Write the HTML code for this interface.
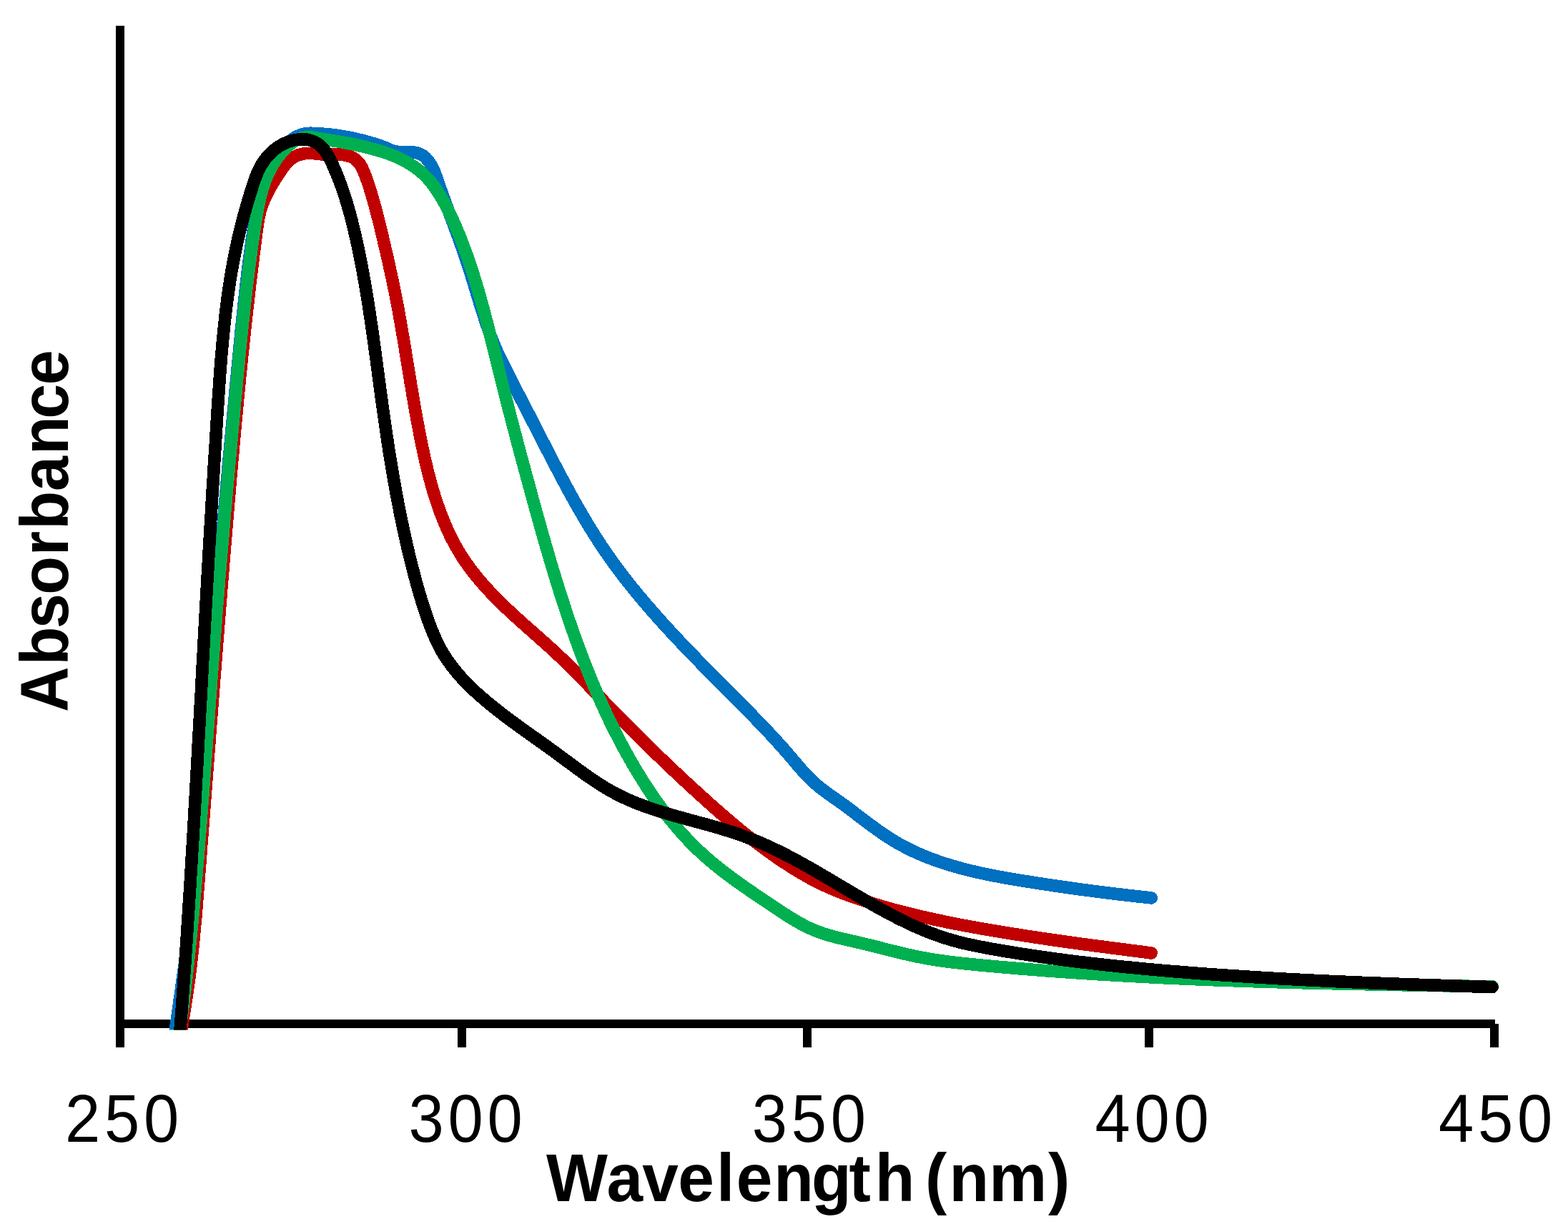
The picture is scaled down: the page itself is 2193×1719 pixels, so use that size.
<!DOCTYPE html>
<html lang="en">
<head>
<meta charset="utf-8">
<title>Absorbance vs Wavelength</title>
<style>
html,body{margin:0;padding:0;background:#fff;}
body{width:2193px;height:1719px;overflow:hidden;}
svg{display:block;}
</style>
</head>
<body>
<svg width="2193" height="1719" viewBox="0 0 2193 1719">
<defs><clipPath id="plot"><rect x="0" y="0" width="2193" height="1440.6"/></clipPath></defs>
<rect width="2193" height="1719" fill="#fff"/>
<g stroke="#000" stroke-width="12" fill="none" shape-rendering="crispEdges">
<line x1="168" y1="36" x2="168" y2="1465"/>
<line x1="162" y1="1432" x2="2091" y2="1432"/>
<line x1="646.0" y1="1432" x2="646.0" y2="1465"/>
<line x1="1129.0" y1="1432" x2="1129.0" y2="1465"/>
<line x1="1607.0" y1="1432" x2="1607.0" y2="1465"/>
<line x1="2090.0" y1="1432" x2="2090.0" y2="1465"/>
</g>
<g fill="none" stroke-width="17.6" stroke-linecap="round" stroke-linejoin="round" shape-rendering="crispEdges" clip-path="url(#plot)">
<path stroke="#0070C0" d="M240.6,1474.9C240.9,1472.6 241.8,1465.6 242.5,1461.0C243.1,1456.4 243.7,1451.8 244.4,1447.1C245.0,1442.5 245.7,1437.9 246.3,1433.2C247.0,1428.6 247.6,1424.0 248.3,1419.4C249.0,1414.7 249.6,1410.1 250.3,1405.5C250.9,1400.8 251.6,1396.2 252.3,1391.6C252.9,1387.0 253.6,1382.3 254.2,1377.7C254.9,1373.0 255.5,1368.4 256.2,1363.8C256.8,1359.1 257.5,1354.5 258.1,1349.9C258.8,1345.2 259.4,1340.6 260.0,1335.9C260.6,1331.3 261.2,1326.7 261.8,1322.0C262.4,1317.4 263.0,1312.7 263.6,1308.1C264.2,1303.4 264.8,1298.8 265.3,1294.2C265.9,1289.5 266.4,1284.9 267.0,1280.2C267.5,1275.6 268.0,1270.9 268.6,1266.3C269.1,1261.6 269.6,1256.9 270.1,1252.3C270.6,1247.6 271.1,1243.0 271.6,1238.3C272.0,1233.7 272.5,1229.0 273.0,1224.4C273.4,1219.7 273.9,1215.0 274.4,1210.4C274.8,1205.7 275.2,1201.1 275.7,1196.4C276.1,1191.7 276.5,1187.1 277.0,1182.4C277.4,1177.8 277.8,1173.1 278.2,1168.4C278.6,1163.8 279.0,1159.1 279.4,1154.4C279.8,1149.8 280.2,1145.1 280.6,1140.4C281.0,1135.8 281.4,1131.1 281.7,1126.4C282.1,1121.8 282.5,1117.1 282.8,1112.4C283.2,1107.8 283.6,1103.1 283.9,1098.4C284.3,1093.7 284.7,1089.1 285.0,1084.4C285.4,1079.7 285.7,1075.1 286.1,1070.4C286.4,1065.7 286.7,1061.1 287.1,1056.4C287.4,1051.7 287.8,1047.0 288.1,1042.4C288.4,1037.7 288.8,1033.0 289.1,1028.4C289.5,1023.7 289.8,1019.0 290.1,1014.3C290.5,1009.7 290.8,1005.0 291.1,1000.3C291.4,995.6 291.8,991.0 292.1,986.3C292.4,981.6 292.8,977.0 293.1,972.3C293.4,967.6 293.8,962.9 294.1,958.3C294.5,953.6 294.8,948.9 295.1,944.3C295.5,939.6 295.8,934.9 296.2,930.2C296.5,925.6 296.8,920.9 297.2,916.2C297.5,911.6 297.9,906.9 298.2,902.2C298.6,897.6 299.0,892.9 299.3,888.2C299.7,883.6 300.0,878.9 300.4,874.2C300.8,869.5 301.1,864.9 301.5,860.2C301.9,855.5 302.2,850.9 302.6,846.2C303.0,841.5 303.3,836.9 303.7,832.2C304.1,827.5 304.5,822.9 304.9,818.2C305.2,813.5 305.6,808.9 306.0,804.2C306.4,799.6 306.8,794.9 307.2,790.2C307.6,785.6 308.0,780.9 308.4,776.2C308.8,771.6 309.1,766.9 309.5,762.2C309.9,757.6 310.3,752.9 310.7,748.2C311.1,743.6 311.6,738.9 312.0,734.2C312.4,729.6 312.8,724.9 313.2,720.3C313.6,715.6 314.0,710.9 314.4,706.3C314.8,701.6 315.2,696.9 315.7,692.3C316.1,687.6 316.5,683.0 316.9,678.3C317.3,673.6 317.8,669.0 318.2,664.3C318.6,659.6 319.0,655.0 319.4,650.3C319.9,645.7 320.3,641.0 320.7,636.3C321.2,631.7 321.6,627.0 322.0,622.3C322.5,617.7 322.9,613.0 323.3,608.4C323.8,603.7 324.2,599.0 324.6,594.4C325.1,589.7 325.5,585.1 325.9,580.4C326.4,575.7 326.8,571.1 327.3,566.4C327.7,561.7 328.1,557.1 328.6,552.4C329.0,547.8 329.5,543.1 329.9,538.4C330.4,533.8 330.8,529.1 331.3,524.4C331.7,519.8 332.2,515.1 332.6,510.5C333.1,505.8 333.5,501.1 334.0,496.5C334.4,491.8 334.9,487.2 335.3,482.5C335.8,477.8 336.2,473.2 336.7,468.5C337.1,463.8 337.6,459.2 338.1,454.5C338.5,449.9 339.0,445.2 339.5,440.5C340.0,435.9 340.5,431.2 341.0,426.6C341.5,421.9 342.0,417.3 342.5,412.6C343.0,407.9 343.5,403.3 344.1,398.6C344.6,394.0 345.2,389.3 345.7,384.7C346.3,380.0 346.9,375.4 347.4,370.8C348.0,366.1 348.6,361.5 349.3,356.8C349.9,352.2 350.5,347.5 351.2,342.9C351.8,338.3 352.5,333.6 353.2,329.0C353.9,324.4 354.6,319.8 355.3,315.1C356.1,310.5 356.8,305.9 357.7,301.3C358.5,296.7 359.4,292.1 360.4,287.5C361.4,283.0 362.4,278.4 363.6,273.9C364.8,269.4 366.1,264.9 367.5,260.4C369.0,256.0 370.5,251.6 372.3,247.2C374.1,242.8 376.0,238.5 378.1,234.2C380.2,229.9 382.5,225.6 385.0,221.6C387.6,217.5 390.3,213.5 393.3,209.8C396.2,206.2 399.4,202.6 402.9,199.6C406.4,196.5 410.1,193.5 414.1,191.4C418.1,189.3 422.5,187.5 427.0,186.7C431.5,185.9 436.4,186.4 441.1,186.5C445.8,186.6 450.5,187.1 455.2,187.5C459.9,187.9 464.5,188.4 469.1,189.0C473.8,189.7 478.4,190.4 483.0,191.2C487.6,192.0 492.2,192.9 496.8,194.0C501.3,195.0 505.9,196.1 510.4,197.3C514.9,198.5 519.5,199.8 523.9,201.2C528.4,202.6 532.8,204.2 537.2,205.8C541.6,207.5 545.8,209.9 550.2,211.1C554.7,212.3 559.3,212.9 563.9,213.2C568.6,213.5 573.7,212.3 578.2,212.9C582.7,213.6 587.3,214.8 591.1,217.2C594.8,219.5 598.0,223.5 600.7,227.3C603.4,231.0 605.4,235.3 607.3,239.6C609.2,243.9 610.6,248.5 612.2,252.9C613.8,257.4 615.3,261.9 616.9,266.4C618.5,270.9 620.1,275.3 621.7,279.7C623.3,284.1 625.0,288.5 626.6,292.9C628.2,297.3 629.8,301.7 631.5,306.1C633.1,310.4 634.7,314.8 636.3,319.2C637.9,323.5 639.5,327.9 641.1,332.2C642.7,336.6 644.3,341.0 645.8,345.4C647.4,349.7 648.9,354.1 650.4,358.5C651.9,362.9 653.4,367.4 654.8,371.8C656.3,376.3 657.7,380.7 659.1,385.2C660.5,389.7 661.8,394.2 663.2,398.7C664.6,403.2 665.9,407.7 667.3,412.2C668.7,416.7 670.0,421.2 671.4,425.7C672.8,430.2 674.2,434.7 675.7,439.1C677.1,443.6 678.6,448.1 680.1,452.5C681.6,457.0 683.2,461.4 684.8,465.8C686.4,470.2 688.1,474.5 689.9,478.9C691.6,483.2 693.4,487.5 695.3,491.8C697.2,496.0 699.2,500.3 701.2,504.5C703.3,508.7 705.4,512.8 707.5,517.0C709.6,521.1 711.7,525.3 713.9,529.4C716.0,533.6 718.1,537.7 720.2,541.9C722.4,546.0 724.5,550.1 726.6,554.3C728.8,558.4 730.9,562.6 733.0,566.7C735.2,570.9 737.3,575.0 739.5,579.1C741.6,583.3 743.7,587.4 745.9,591.6C748.0,595.8 750.1,599.9 752.3,604.1C754.4,608.2 756.6,612.4 758.7,616.6C760.8,620.8 763.0,624.9 765.1,629.1C767.3,633.3 769.4,637.5 771.6,641.6C773.7,645.8 775.9,650.0 778.1,654.1C780.3,658.3 782.4,662.5 784.6,666.6C786.8,670.8 789.1,674.9 791.3,679.0C793.5,683.2 795.8,687.3 798.0,691.4C800.3,695.5 802.6,699.6 804.9,703.7C807.2,707.8 809.5,711.9 811.9,715.9C814.2,720.0 816.6,724.0 819.0,728.1C821.4,732.1 823.8,736.1 826.3,740.1C828.8,744.1 831.3,748.0 833.8,752.0C836.3,755.9 838.9,759.8 841.4,763.7C844.0,767.6 846.7,771.4 849.3,775.3C852.0,779.1 854.7,782.9 857.4,786.7C860.2,790.5 862.9,794.2 865.7,798.0C868.5,801.7 871.4,805.4 874.2,809.1C877.1,812.8 880.0,816.5 882.9,820.1C885.8,823.7 888.8,827.4 891.8,831.0C894.7,834.6 897.7,838.1 900.8,841.7C903.8,845.3 906.9,848.8 909.9,852.3C913.0,855.9 916.1,859.4 919.2,862.9C922.3,866.4 925.4,869.9 928.6,873.3C931.7,876.8 934.9,880.2 938.1,883.7C941.3,887.1 944.5,890.5 947.7,894.0C950.9,897.4 954.1,900.8 957.4,904.2C960.6,907.6 963.9,910.9 967.1,914.3C970.4,917.7 973.6,921.1 976.9,924.4C980.2,927.8 983.5,931.1 986.8,934.5C990.1,937.8 993.3,941.2 996.6,944.5C999.9,947.8 1003.2,951.2 1006.5,954.5C1009.8,957.8 1013.1,961.1 1016.4,964.5C1019.7,967.8 1023.0,971.1 1026.3,974.4C1029.6,977.7 1032.9,981.1 1036.2,984.4C1039.5,987.7 1042.8,991.0 1046.0,994.3C1049.3,997.7 1052.6,1001.0 1055.8,1004.3C1059.1,1007.7 1062.3,1011.0 1065.6,1014.4C1068.8,1017.8 1072.0,1021.2 1075.2,1024.6C1078.4,1028.0 1081.6,1031.4 1084.7,1034.8C1087.9,1038.3 1091.0,1041.8 1094.1,1045.3C1097.3,1048.8 1100.3,1052.4 1103.4,1056.0C1106.5,1059.5 1109.5,1063.2 1112.6,1066.8C1115.6,1070.3 1118.7,1073.9 1121.8,1077.4C1125.0,1080.9 1128.2,1084.4 1131.4,1087.7C1134.7,1091.0 1138.1,1094.2 1141.6,1097.2C1145.1,1100.3 1148.7,1103.1 1152.4,1105.9C1156.1,1108.7 1159.9,1111.3 1163.7,1114.0C1167.5,1116.8 1171.4,1119.4 1175.2,1122.1C1179.0,1124.9 1182.8,1127.6 1186.5,1130.5C1190.3,1133.3 1194.1,1136.1 1197.8,1139.0C1201.6,1141.8 1205.4,1144.7 1209.2,1147.6C1212.9,1150.4 1216.7,1153.3 1220.5,1156.0C1224.3,1158.8 1228.2,1161.6 1232.0,1164.3C1235.9,1166.9 1239.8,1169.6 1243.7,1172.1C1247.7,1174.6 1251.7,1177.0 1255.7,1179.4C1259.7,1181.7 1263.8,1183.9 1268.0,1186.0C1272.1,1188.1 1276.3,1190.1 1280.5,1192.1C1284.7,1194.0 1289.0,1195.8 1293.3,1197.6C1297.6,1199.4 1301.9,1201.0 1306.3,1202.6C1310.7,1204.2 1315.1,1205.7 1319.5,1207.2C1324.0,1208.6 1328.4,1210.0 1332.9,1211.3C1337.4,1212.6 1341.9,1213.9 1346.4,1215.1C1351.0,1216.3 1355.5,1217.4 1360.1,1218.5C1364.7,1219.6 1369.3,1220.6 1373.9,1221.6C1378.5,1222.6 1383.1,1223.5 1387.7,1224.4C1392.3,1225.3 1397.0,1226.2 1401.6,1227.1C1406.3,1227.9 1410.9,1228.7 1415.5,1229.5C1420.2,1230.3 1424.8,1231.1 1429.5,1231.8C1434.1,1232.6 1438.8,1233.3 1443.4,1234.0C1448.0,1234.8 1452.7,1235.5 1457.3,1236.2C1461.9,1236.9 1466.5,1237.6 1471.1,1238.3C1475.7,1239.0 1480.3,1239.7 1485.0,1240.3C1489.6,1241.0 1494.2,1241.6 1498.8,1242.3C1503.4,1242.9 1508.0,1243.6 1512.6,1244.2C1517.2,1244.8 1521.8,1245.4 1526.5,1246.0C1531.1,1246.6 1535.7,1247.2 1540.3,1247.8C1544.9,1248.4 1549.6,1249.0 1554.2,1249.6C1558.9,1250.1 1563.5,1250.7 1568.2,1251.2C1572.8,1251.8 1577.5,1252.3 1582.2,1252.8C1586.8,1253.4 1591.5,1253.9 1596.2,1254.4C1600.9,1254.9 1608.0,1255.7 1610.3,1255.9"/>
<path stroke="#C00000" d="M251.8,1475.0C251.9,1472.7 252.0,1465.6 252.3,1461.0C252.5,1456.3 253.0,1451.6 253.4,1447.0C253.9,1442.3 254.5,1437.7 255.1,1433.1C255.7,1428.4 256.4,1423.8 257.1,1419.2C257.8,1414.6 258.6,1410.0 259.3,1405.3C260.0,1400.7 260.7,1396.1 261.4,1391.5C262.1,1386.9 262.8,1382.2 263.4,1377.6C264.1,1373.0 264.7,1368.3 265.3,1363.7C265.9,1359.1 266.5,1354.4 267.0,1349.8C267.6,1345.1 268.1,1340.5 268.6,1335.9C269.1,1331.2 269.6,1326.6 270.1,1321.9C270.5,1317.3 271.0,1312.6 271.4,1307.9C271.9,1303.3 272.3,1298.6 272.7,1294.0C273.2,1289.3 273.6,1284.7 274.0,1280.0C274.4,1275.3 274.8,1270.7 275.1,1266.0C275.5,1261.3 275.9,1256.7 276.3,1252.0C276.6,1247.4 277.0,1242.7 277.4,1238.0C277.7,1233.4 278.1,1228.7 278.5,1224.0C278.8,1219.4 279.2,1214.7 279.6,1210.0C279.9,1205.4 280.3,1200.7 280.7,1196.1C281.0,1191.4 281.4,1186.7 281.7,1182.1C282.1,1177.4 282.5,1172.7 282.8,1168.1C283.2,1163.4 283.5,1158.8 283.9,1154.1C284.3,1149.4 284.6,1144.8 285.0,1140.1C285.4,1135.4 285.7,1130.8 286.1,1126.1C286.4,1121.5 286.8,1116.8 287.2,1112.1C287.5,1107.5 287.9,1102.8 288.2,1098.1C288.6,1093.5 289.0,1088.8 289.3,1084.2C289.7,1079.5 290.0,1074.8 290.4,1070.2C290.8,1065.5 291.1,1060.9 291.5,1056.2C291.8,1051.5 292.2,1046.9 292.6,1042.2C292.9,1037.6 293.3,1032.9 293.6,1028.2C294.0,1023.6 294.4,1018.9 294.7,1014.3C295.1,1009.6 295.4,1004.9 295.8,1000.3C296.2,995.6 296.5,991.0 296.9,986.3C297.3,981.6 297.6,977.0 298.0,972.3C298.3,967.6 298.7,963.0 299.1,958.3C299.4,953.7 299.8,949.0 300.2,944.3C300.5,939.7 300.9,935.0 301.3,930.4C301.6,925.7 302.0,921.0 302.4,916.4C302.7,911.7 303.1,907.1 303.5,902.4C303.8,897.7 304.2,893.1 304.6,888.4C304.9,883.8 305.3,879.1 305.7,874.4C306.0,869.8 306.4,865.1 306.8,860.5C307.2,855.8 307.5,851.1 307.9,846.5C308.3,841.8 308.6,837.1 309.0,832.5C309.4,827.8 309.8,823.2 310.2,818.5C310.5,813.8 310.9,809.2 311.3,804.5C311.7,799.9 312.0,795.2 312.4,790.5C312.8,785.9 313.2,781.2 313.6,776.5C314.0,771.9 314.3,767.2 314.7,762.6C315.1,757.9 315.5,753.2 315.9,748.6C316.3,743.9 316.7,739.2 317.0,734.6C317.4,729.9 317.8,725.3 318.2,720.6C318.6,715.9 319.0,711.3 319.4,706.6C319.8,701.9 320.2,697.3 320.6,692.6C321.0,687.9 321.4,683.3 321.8,678.6C322.2,674.0 322.6,669.3 323.0,664.6C323.4,660.0 323.8,655.3 324.2,650.6C324.6,646.0 325.0,641.3 325.5,636.7C325.9,632.0 326.3,627.3 326.7,622.7C327.1,618.0 327.5,613.4 328.0,608.7C328.4,604.0 328.8,599.4 329.3,594.7C329.7,590.1 330.1,585.4 330.6,580.8C331.0,576.1 331.4,571.5 331.9,566.8C332.3,562.2 332.8,557.5 333.2,552.9C333.7,548.2 334.1,543.6 334.6,538.9C335.0,534.3 335.5,529.6 335.9,525.0C336.4,520.3 336.9,515.7 337.4,511.0C337.8,506.4 338.3,501.8 338.8,497.1C339.3,492.5 339.7,487.8 340.2,483.2C340.7,478.6 341.2,473.9 341.7,469.3C342.2,464.7 342.7,460.0 343.2,455.4C343.7,450.8 344.2,446.1 344.7,441.5C345.3,436.8 345.8,432.2 346.3,427.6C346.8,422.9 347.4,418.3 347.9,413.7C348.4,409.0 349.0,404.4 349.5,399.7C350.1,395.1 350.6,390.4 351.2,385.8C351.8,381.1 352.3,376.5 352.9,371.8C353.5,367.2 354.0,362.5 354.6,357.8C355.2,353.2 355.8,348.5 356.4,343.8C357.0,339.1 357.6,334.5 358.2,329.8C358.8,325.1 359.4,320.4 360.1,315.7C360.8,311.0 361.4,306.3 362.4,301.8C363.4,297.2 364.6,292.8 366.0,288.4C367.5,284.1 369.3,279.9 371.2,275.7C373.1,271.6 375.3,267.5 377.5,263.4C379.8,259.3 382.3,255.3 384.7,251.3C387.2,247.3 389.8,243.1 392.5,239.2C395.3,235.3 398.0,231.2 401.2,227.9C404.4,224.5 407.8,221.4 411.8,219.3C415.7,217.1 420.3,215.7 424.8,214.9C429.3,214.2 434.1,214.5 438.8,214.7C443.5,214.9 448.1,215.9 452.8,216.1C457.5,216.3 462.3,215.9 467.1,216.0C471.8,216.1 476.6,216.0 481.1,216.8C485.6,217.6 490.4,218.6 494.2,220.9C497.9,223.1 501.1,226.5 503.8,230.2C506.4,233.9 508.2,238.7 510.0,243.1C511.9,247.5 513.4,252.2 514.9,256.7C516.4,261.2 517.8,265.6 519.2,270.0C520.5,274.4 521.8,278.9 523.0,283.3C524.3,287.8 525.5,292.3 526.6,296.8C527.8,301.3 528.9,305.8 530.1,310.3C531.2,314.8 532.3,319.4 533.4,323.9C534.5,328.5 535.5,333.0 536.6,337.6C537.7,342.1 538.8,346.7 539.8,351.3C540.9,355.9 541.9,360.4 543.0,365.0C544.0,369.6 545.0,374.2 546.0,378.8C547.1,383.4 548.0,388.0 549.0,392.6C550.0,397.1 550.9,401.7 551.9,406.3C552.8,410.9 553.7,415.5 554.6,420.1C555.5,424.7 556.3,429.3 557.2,433.9C558.0,438.5 558.8,443.1 559.7,447.7C560.5,452.3 561.3,456.9 562.1,461.5C562.8,466.0 563.6,470.6 564.4,475.2C565.2,479.8 565.9,484.4 566.7,489.0C567.4,493.6 568.2,498.2 568.9,502.8C569.7,507.4 570.4,512.0 571.2,516.6C571.9,521.2 572.7,525.7 573.4,530.3C574.2,534.9 574.9,539.5 575.7,544.1C576.5,548.7 577.2,553.3 578.0,557.9C578.8,562.5 579.6,567.1 580.4,571.7C581.2,576.3 582.0,580.9 582.9,585.5C583.7,590.1 584.6,594.7 585.5,599.3C586.3,603.9 587.2,608.5 588.2,613.1C589.1,617.7 590.0,622.3 591.0,626.9C592.0,631.6 593.0,636.2 594.0,640.8C595.0,645.4 596.1,650.0 597.2,654.5C598.3,659.1 599.5,663.7 600.7,668.3C601.9,672.8 603.1,677.4 604.4,681.9C605.7,686.4 607.1,690.9 608.5,695.4C609.9,699.8 611.4,704.3 613.0,708.7C614.5,713.1 616.1,717.5 617.8,721.8C619.5,726.2 621.2,730.5 623.1,734.7C624.9,739.0 626.8,743.2 628.8,747.4C630.8,751.6 632.9,755.7 635.1,759.8C637.3,763.9 639.6,767.9 642.0,771.8C644.3,775.8 646.8,779.7 649.4,783.6C652.0,787.4 654.7,791.2 657.5,794.9C660.2,798.6 663.1,802.3 666.0,805.9C669.0,809.6 672.0,813.1 675.1,816.6C678.2,820.2 681.4,823.6 684.6,827.1C687.8,830.5 691.1,833.9 694.4,837.2C697.7,840.6 701.0,843.9 704.4,847.2C707.8,850.4 711.3,853.7 714.7,856.9C718.2,860.1 721.6,863.3 725.1,866.4C728.6,869.6 732.1,872.7 735.6,875.8C739.1,878.9 742.6,882.0 746.1,885.1C749.5,888.2 753.0,891.2 756.5,894.3C760.0,897.4 763.4,900.5 766.9,903.6C770.3,906.7 773.8,909.9 777.2,913.0C780.6,916.2 783.9,919.4 787.3,922.6C790.7,925.8 794.0,929.1 797.3,932.4C800.6,935.7 803.9,939.0 807.2,942.3C810.5,945.7 813.8,949.0 817.1,952.4C820.3,955.7 823.6,959.1 826.8,962.5C830.1,965.9 833.3,969.3 836.6,972.6C839.8,976.0 843.1,979.4 846.3,982.8C849.6,986.2 852.8,989.5 856.1,992.9C859.4,996.3 862.6,999.6 865.9,1002.9C869.2,1006.3 872.5,1009.6 875.8,1012.9C879.1,1016.2 882.4,1019.6 885.7,1022.9C889.0,1026.2 892.3,1029.5 895.6,1032.7C898.9,1036.0 902.2,1039.3 905.6,1042.6C908.9,1045.8 912.2,1049.1 915.6,1052.3C918.9,1055.6 922.3,1058.8 925.6,1062.0C929.0,1065.3 932.4,1068.5 935.8,1071.7C939.2,1074.9 942.5,1078.1 945.9,1081.3C949.3,1084.5 952.8,1087.7 956.2,1090.9C959.6,1094.1 963.0,1097.2 966.5,1100.4C969.9,1103.6 973.4,1106.7 976.8,1109.9C980.3,1113.0 983.8,1116.2 987.2,1119.3C990.7,1122.4 994.2,1125.6 997.7,1128.7C1001.2,1131.8 1004.8,1134.9 1008.3,1138.0C1011.9,1141.0 1015.4,1144.1 1019.0,1147.2C1022.5,1150.2 1026.1,1153.2 1029.7,1156.2C1033.3,1159.2 1037.0,1162.2 1040.6,1165.1C1044.3,1168.1 1047.9,1171.0 1051.6,1173.9C1055.3,1176.7 1059.0,1179.6 1062.7,1182.4C1066.5,1185.2 1070.2,1188.0 1074.0,1190.7C1077.8,1193.5 1081.6,1196.2 1085.4,1198.8C1089.2,1201.5 1093.1,1204.1 1097.0,1206.6C1100.9,1209.2 1104.8,1211.7 1108.7,1214.2C1112.7,1216.6 1116.6,1219.1 1120.7,1221.4C1124.7,1223.8 1128.7,1226.0 1132.8,1228.3C1136.9,1230.5 1141.0,1232.6 1145.2,1234.7C1149.3,1236.8 1153.5,1238.8 1157.8,1240.7C1162.1,1242.6 1166.4,1244.5 1170.7,1246.2C1175.0,1248.0 1179.4,1249.7 1183.8,1251.3C1188.3,1253.0 1192.7,1254.5 1197.1,1256.0C1201.6,1257.6 1206.0,1259.0 1210.5,1260.5C1215.0,1261.9 1219.5,1263.3 1223.9,1264.7C1228.4,1266.1 1232.9,1267.4 1237.4,1268.7C1241.9,1270.0 1246.4,1271.2 1250.9,1272.5C1255.4,1273.7 1259.9,1274.9 1264.5,1276.0C1269.0,1277.2 1273.5,1278.3 1278.1,1279.4C1282.6,1280.5 1287.1,1281.6 1291.7,1282.6C1296.2,1283.7 1300.8,1284.7 1305.4,1285.7C1309.9,1286.7 1314.5,1287.7 1319.1,1288.6C1323.6,1289.6 1328.2,1290.5 1332.8,1291.4C1337.4,1292.3 1341.9,1293.2 1346.5,1294.1C1351.1,1294.9 1355.7,1295.8 1360.3,1296.6C1364.9,1297.5 1369.5,1298.3 1374.1,1299.1C1378.7,1299.9 1383.3,1300.7 1387.9,1301.5C1392.5,1302.2 1397.1,1303.0 1401.8,1303.8C1406.4,1304.5 1411.0,1305.3 1415.6,1306.0C1420.2,1306.7 1424.8,1307.5 1429.5,1308.2C1434.1,1308.9 1438.7,1309.6 1443.3,1310.3C1448.0,1311.0 1452.6,1311.7 1457.2,1312.4C1461.9,1313.1 1466.5,1313.8 1471.1,1314.4C1475.8,1315.1 1480.4,1315.8 1485.0,1316.4C1489.7,1317.1 1494.3,1317.7 1498.9,1318.4C1503.6,1319.0 1508.2,1319.6 1512.8,1320.3C1517.5,1320.9 1522.1,1321.5 1526.8,1322.2C1531.4,1322.8 1536.0,1323.4 1540.7,1324.0C1545.3,1324.6 1549.9,1325.2 1554.6,1325.8C1559.2,1326.4 1563.9,1327.0 1568.5,1327.6C1573.1,1328.2 1577.8,1328.8 1582.4,1329.4C1587.0,1330.0 1591.7,1330.6 1596.3,1331.2C1600.9,1331.8 1607.9,1332.7 1610.2,1333.0"/>
<path stroke="#00B050" d="M246.5,1474.8C246.9,1472.5 247.9,1465.6 248.6,1461.0C249.3,1456.4 250.0,1451.8 250.6,1447.2C251.3,1442.6 251.9,1438.0 252.5,1433.4C253.2,1428.8 253.8,1424.1 254.4,1419.5C255.0,1414.9 255.6,1410.3 256.2,1405.6C256.8,1401.0 257.4,1396.4 257.9,1391.7C258.5,1387.1 259.0,1382.5 259.6,1377.8C260.1,1373.2 260.7,1368.5 261.2,1363.9C261.7,1359.2 262.2,1354.6 262.7,1349.9C263.3,1345.3 263.8,1340.6 264.2,1336.0C264.7,1331.3 265.2,1326.7 265.7,1322.0C266.2,1317.4 266.6,1312.7 267.1,1308.0C267.6,1303.4 268.0,1298.7 268.5,1294.1C268.9,1289.4 269.4,1284.7 269.8,1280.1C270.2,1275.4 270.7,1270.8 271.1,1266.1C271.5,1261.4 271.9,1256.8 272.4,1252.1C272.8,1247.4 273.2,1242.8 273.6,1238.1C274.0,1233.5 274.4,1228.8 274.8,1224.1C275.2,1219.5 275.6,1214.8 276.0,1210.1C276.4,1205.5 276.8,1200.8 277.2,1196.2C277.5,1191.5 277.9,1186.8 278.3,1182.2C278.7,1177.5 279.1,1172.9 279.4,1168.2C279.8,1163.6 280.2,1158.9 280.5,1154.2C280.9,1149.6 281.3,1144.9 281.6,1140.3C282.0,1135.6 282.4,1130.9 282.7,1126.3C283.1,1121.6 283.4,1117.0 283.8,1112.3C284.1,1107.7 284.5,1103.0 284.8,1098.3C285.2,1093.7 285.5,1089.0 285.9,1084.4C286.2,1079.7 286.6,1075.1 286.9,1070.4C287.3,1065.7 287.6,1061.1 288.0,1056.4C288.3,1051.8 288.7,1047.1 289.0,1042.5C289.3,1037.8 289.7,1033.1 290.0,1028.5C290.4,1023.8 290.7,1019.2 291.0,1014.5C291.4,1009.8 291.7,1005.2 292.1,1000.5C292.4,995.9 292.8,991.2 293.1,986.6C293.4,981.9 293.8,977.2 294.1,972.6C294.5,967.9 294.8,963.3 295.1,958.6C295.5,953.9 295.8,949.3 296.2,944.6C296.5,939.9 296.9,935.3 297.2,930.6C297.6,926.0 297.9,921.3 298.3,916.6C298.6,912.0 299.0,907.3 299.3,902.6C299.7,898.0 300.0,893.3 300.4,888.6C300.8,884.0 301.1,879.3 301.5,874.6C301.8,870.0 302.2,865.3 302.6,860.6C302.9,856.0 303.3,851.3 303.7,846.6C304.0,842.0 304.4,837.3 304.8,832.6C305.2,827.9 305.6,823.3 305.9,818.6C306.3,813.9 306.7,809.2 307.1,804.6C307.5,799.9 307.9,795.2 308.3,790.5C308.7,785.9 309.1,781.2 309.5,776.5C309.9,771.8 310.3,767.2 310.7,762.5C311.1,757.8 311.5,753.2 311.9,748.5C312.3,743.8 312.7,739.1 313.1,734.5C313.5,729.8 313.9,725.1 314.3,720.4C314.7,715.8 315.2,711.1 315.6,706.4C316.0,701.8 316.4,697.1 316.8,692.4C317.2,687.8 317.7,683.1 318.1,678.4C318.5,673.8 318.9,669.1 319.3,664.4C319.8,659.8 320.2,655.1 320.6,650.5C321.0,645.8 321.5,641.2 321.9,636.5C322.3,631.8 322.7,627.2 323.2,622.5C323.6,617.9 324.0,613.2 324.4,608.6C324.9,604.0 325.3,599.3 325.7,594.7C326.1,590.0 326.6,585.4 327.0,580.8C327.4,576.1 327.9,571.5 328.3,566.9C328.7,562.2 329.1,557.6 329.6,553.0C330.0,548.4 330.4,543.7 330.9,539.1C331.3,534.5 331.7,529.9 332.2,525.2C332.6,520.6 333.0,516.0 333.5,511.4C333.9,506.8 334.4,502.1 334.8,497.5C335.3,492.9 335.7,488.3 336.2,483.7C336.7,479.0 337.1,474.4 337.6,469.8C338.1,465.2 338.6,460.5 339.1,455.9C339.5,451.3 340.0,446.7 340.5,442.0C341.0,437.4 341.6,432.7 342.1,428.1C342.6,423.5 343.1,418.8 343.7,414.2C344.2,409.5 344.7,404.9 345.3,400.2C345.9,395.6 346.4,390.9 347.0,386.2C347.6,381.6 348.2,376.9 348.8,372.2C349.4,367.5 350.0,362.8 350.6,358.2C351.2,353.5 351.9,348.8 352.5,344.1C353.2,339.4 353.9,334.6 354.5,329.9C355.2,325.2 355.9,320.5 356.6,315.7C357.4,311.0 358.1,306.3 358.9,301.6C359.7,296.9 360.5,292.2 361.5,287.5C362.5,282.9 363.5,278.2 364.6,273.7C365.8,269.2 367.1,264.6 368.5,260.2C369.9,255.8 371.5,251.5 373.3,247.3C375.0,243.0 376.9,238.9 379.1,234.9C381.3,230.9 383.6,227.0 386.2,223.2C388.8,219.5 391.7,215.8 394.8,212.4C397.9,209.0 401.3,205.5 405.0,202.5C408.7,199.5 412.8,196.2 417.0,194.4C421.3,192.6 426.1,192.1 430.7,191.9C435.3,191.7 440.1,192.7 444.7,193.3C449.4,194.0 454.1,195.0 458.7,195.7C463.4,196.5 468.0,197.1 472.6,197.9C477.2,198.7 481.8,199.4 486.3,200.3C490.9,201.2 495.4,202.2 500.0,203.2C504.5,204.2 509.1,205.2 513.6,206.4C518.2,207.5 522.8,208.7 527.3,210.0C531.8,211.3 536.3,212.7 540.7,214.2C545.2,215.8 549.5,217.4 553.8,219.3C558.1,221.2 562.3,223.2 566.4,225.4C570.5,227.6 574.5,230.0 578.3,232.6C582.2,235.2 585.9,238.1 589.4,241.1C592.9,244.2 596.2,247.5 599.3,251.0C602.5,254.5 605.3,258.3 608.1,262.1C610.8,266.0 613.4,270.0 615.8,274.0C618.3,278.1 620.6,282.1 622.8,286.3C625.0,290.4 627.1,294.5 629.1,298.7C631.1,302.9 633.1,307.1 635.0,311.4C636.9,315.6 638.7,319.9 640.5,324.2C642.3,328.5 644.0,332.8 645.7,337.1C647.4,341.5 649.0,345.8 650.6,350.2C652.2,354.6 653.8,358.9 655.3,363.3C656.8,367.8 658.3,372.2 659.7,376.6C661.2,381.0 662.6,385.5 664.0,390.0C665.4,394.4 666.7,398.9 668.0,403.4C669.4,407.9 670.6,412.4 671.9,416.9C673.2,421.4 674.4,425.9 675.7,430.4C676.9,435.0 678.1,439.5 679.3,444.0C680.5,448.6 681.6,453.1 682.8,457.7C684.0,462.2 685.1,466.8 686.2,471.3C687.4,475.9 688.5,480.4 689.6,485.0C690.8,489.6 691.9,494.1 693.0,498.7C694.1,503.2 695.3,507.8 696.4,512.3C697.5,516.9 698.6,521.4 699.8,526.0C700.9,530.5 702.0,535.1 703.2,539.6C704.3,544.1 705.5,548.7 706.6,553.2C707.8,557.7 708.9,562.3 710.1,566.8C711.2,571.3 712.4,575.8 713.6,580.3C714.8,584.9 715.9,589.4 717.1,593.9C718.3,598.4 719.5,602.9 720.7,607.4C721.8,611.9 723.0,616.4 724.2,621.0C725.4,625.5 726.6,630.0 727.8,634.5C729.0,639.0 730.2,643.5 731.5,648.0C732.7,652.5 733.9,657.0 735.1,661.5C736.3,666.0 737.6,670.5 738.8,675.0C740.0,679.5 741.2,684.0 742.5,688.5C743.7,693.0 744.9,697.5 746.2,702.0C747.4,706.5 748.7,711.0 749.9,715.5C751.2,720.0 752.4,724.5 753.7,729.1C755.0,733.6 756.2,738.1 757.5,742.6C758.8,747.1 760.1,751.6 761.4,756.1C762.6,760.6 763.9,765.1 765.3,769.6C766.6,774.1 767.9,778.6 769.2,783.1C770.5,787.6 771.9,792.0 773.2,796.5C774.6,801.0 775.9,805.5 777.3,810.0C778.7,814.4 780.1,818.9 781.5,823.4C782.9,827.9 784.3,832.3 785.7,836.8C787.2,841.2 788.6,845.7 790.1,850.1C791.5,854.6 793.0,859.0 794.5,863.5C796.0,867.9 797.5,872.3 799.1,876.7C800.6,881.1 802.2,885.6 803.7,890.0C805.3,894.4 806.9,898.8 808.5,903.1C810.1,907.5 811.8,911.9 813.4,916.3C815.1,920.6 816.7,925.0 818.4,929.3C820.2,933.7 821.9,938.0 823.6,942.4C825.4,946.7 827.1,951.0 828.9,955.3C830.7,959.6 832.6,963.9 834.4,968.2C836.3,972.5 838.2,976.7 840.1,981.0C842.0,985.3 843.9,989.5 845.9,993.7C847.8,998.0 849.8,1002.2 851.8,1006.4C853.9,1010.6 855.9,1014.8 858.0,1019.0C860.1,1023.1 862.2,1027.3 864.4,1031.4C866.5,1035.6 868.7,1039.7 870.9,1043.8C873.1,1048.0 875.4,1052.1 877.6,1056.1C879.9,1060.2 882.2,1064.3 884.6,1068.3C887.0,1072.4 889.3,1076.4 891.8,1080.4C894.2,1084.4 896.7,1088.4 899.2,1092.4C901.7,1096.4 904.2,1100.3 906.8,1104.2C909.4,1108.1 912.0,1112.0 914.7,1115.9C917.4,1119.7 920.1,1123.5 922.9,1127.3C925.6,1131.1 928.4,1134.9 931.3,1138.6C934.1,1142.3 937.1,1145.9 940.0,1149.5C943.0,1153.2 946.0,1156.7 949.0,1160.3C952.1,1163.8 955.2,1167.3 958.4,1170.7C961.5,1174.1 964.8,1177.5 968.0,1180.8C971.3,1184.1 974.7,1187.3 978.0,1190.5C981.4,1193.7 984.9,1196.8 988.4,1199.9C991.9,1203.0 995.5,1206.0 999.1,1209.0C1002.7,1211.9 1006.3,1214.8 1010.0,1217.7C1013.7,1220.6 1017.5,1223.4 1021.2,1226.2C1025.0,1229.0 1028.8,1231.8 1032.6,1234.5C1036.4,1237.2 1040.3,1239.9 1044.1,1242.6C1048.0,1245.3 1051.9,1247.9 1055.7,1250.6C1059.6,1253.2 1063.5,1255.8 1067.4,1258.4C1071.3,1261.1 1075.2,1263.7 1079.1,1266.3C1083.0,1268.9 1086.9,1271.5 1090.8,1274.1C1094.7,1276.6 1098.6,1279.2 1102.6,1281.7C1106.5,1284.2 1110.5,1286.6 1114.5,1288.9C1118.5,1291.2 1122.6,1293.5 1126.7,1295.5C1130.8,1297.6 1135.0,1299.5 1139.3,1301.3C1143.6,1303.1 1147.9,1304.6 1152.4,1306.1C1156.8,1307.5 1161.3,1308.8 1165.8,1310.0C1170.4,1311.3 1175.0,1312.3 1179.6,1313.4C1184.2,1314.5 1188.8,1315.5 1193.4,1316.6C1198.0,1317.6 1202.6,1318.7 1207.2,1319.8C1211.8,1320.9 1216.4,1322.0 1220.9,1323.1C1225.5,1324.3 1230.0,1325.4 1234.5,1326.6C1239.1,1327.7 1243.6,1328.9 1248.1,1330.0C1252.6,1331.1 1257.2,1332.2 1261.7,1333.3C1266.2,1334.4 1270.8,1335.4 1275.3,1336.4C1279.8,1337.4 1284.4,1338.4 1289.0,1339.2C1293.5,1340.1 1298.1,1340.9 1302.7,1341.7C1307.3,1342.5 1311.9,1343.2 1316.5,1343.8C1321.2,1344.5 1325.8,1345.1 1330.4,1345.7C1335.1,1346.2 1339.7,1346.8 1344.4,1347.3C1349.0,1347.8 1353.7,1348.2 1358.4,1348.7C1363.0,1349.2 1367.7,1349.6 1372.4,1350.1C1377.0,1350.5 1381.7,1350.9 1386.3,1351.4C1391.0,1351.8 1395.7,1352.2 1400.3,1352.6C1405.0,1353.0 1409.7,1353.4 1414.3,1353.8C1419.0,1354.2 1423.7,1354.6 1428.3,1355.0C1433.0,1355.4 1437.7,1355.7 1442.3,1356.1C1447.0,1356.5 1451.7,1356.8 1456.3,1357.2C1461.0,1357.6 1465.7,1357.9 1470.3,1358.3C1475.0,1358.6 1479.7,1358.9 1484.3,1359.3C1489.0,1359.6 1493.7,1359.9 1498.3,1360.2C1503.0,1360.6 1507.7,1360.9 1512.4,1361.2C1517.0,1361.5 1521.7,1361.8 1526.4,1362.1C1531.0,1362.4 1535.7,1362.7 1540.4,1363.0C1545.0,1363.3 1549.7,1363.5 1554.4,1363.8C1559.0,1364.1 1563.7,1364.4 1568.4,1364.6C1573.0,1364.9 1577.7,1365.1 1582.4,1365.4C1587.1,1365.7 1591.7,1365.9 1596.4,1366.1C1601.1,1366.4 1605.7,1366.6 1610.4,1366.9C1615.1,1367.1 1619.7,1367.3 1624.4,1367.6C1629.1,1367.8 1633.8,1368.0 1638.4,1368.2C1643.1,1368.4 1647.8,1368.6 1652.4,1368.9C1657.1,1369.1 1661.8,1369.3 1666.4,1369.5C1671.1,1369.7 1675.8,1369.9 1680.5,1370.0C1685.1,1370.2 1689.8,1370.4 1694.5,1370.6C1699.1,1370.8 1703.8,1371.0 1708.5,1371.1C1713.2,1371.3 1717.8,1371.5 1722.5,1371.6C1727.2,1371.8 1731.8,1372.0 1736.5,1372.1C1741.2,1372.3 1745.9,1372.5 1750.5,1372.6C1755.2,1372.8 1759.9,1372.9 1764.6,1373.1C1769.2,1373.2 1773.9,1373.3 1778.6,1373.5C1783.3,1373.6 1787.9,1373.8 1792.6,1373.9C1797.3,1374.0 1801.9,1374.2 1806.6,1374.3C1811.3,1374.4 1816.0,1374.5 1820.6,1374.7C1825.3,1374.8 1830.0,1374.9 1834.7,1375.0C1839.3,1375.2 1844.0,1375.3 1848.7,1375.4C1853.4,1375.5 1858.0,1375.6 1862.7,1375.7C1867.4,1375.8 1872.1,1375.9 1876.7,1376.0C1881.4,1376.1 1886.1,1376.2 1890.8,1376.3C1895.4,1376.4 1900.1,1376.5 1904.8,1376.6C1909.5,1376.7 1914.1,1376.8 1918.8,1376.9C1923.5,1377.0 1928.2,1377.1 1932.8,1377.2C1937.5,1377.3 1942.2,1377.4 1946.9,1377.5C1951.6,1377.5 1956.2,1377.6 1960.9,1377.7C1965.6,1377.8 1970.3,1377.9 1974.9,1378.0C1979.6,1378.0 1984.3,1378.1 1989.0,1378.2C1993.7,1378.3 1998.3,1378.4 2003.0,1378.4C2007.7,1378.5 2012.4,1378.6 2017.0,1378.7C2021.7,1378.8 2026.4,1378.8 2031.1,1378.9C2035.8,1379.0 2040.4,1379.1 2045.1,1379.1C2049.8,1379.2 2054.5,1379.3 2059.1,1379.4C2063.8,1379.4 2068.5,1379.5 2073.2,1379.6C2077.9,1379.7 2084.9,1379.8 2087.2,1379.8"/>
<path stroke="#000000" d="M249.3,1475.0C249.5,1472.6 250.1,1465.7 250.4,1461.0C250.8,1456.3 251.2,1451.7 251.5,1447.0C251.9,1442.4 252.2,1437.7 252.6,1433.0C252.9,1428.4 253.3,1423.7 253.6,1419.1C254.0,1414.4 254.3,1409.7 254.7,1405.1C255.0,1400.4 255.4,1395.7 255.7,1391.1C256.0,1386.4 256.4,1381.8 256.7,1377.1C257.0,1372.4 257.4,1367.8 257.7,1363.1C258.0,1358.4 258.4,1353.8 258.7,1349.1C259.0,1344.5 259.3,1339.8 259.6,1335.1C260.0,1330.5 260.3,1325.8 260.6,1321.1C260.9,1316.5 261.2,1311.8 261.5,1307.1C261.8,1302.5 262.1,1297.8 262.4,1293.1C262.7,1288.5 263.0,1283.8 263.3,1279.1C263.6,1274.5 263.9,1269.8 264.2,1265.1C264.5,1260.5 264.8,1255.8 265.1,1251.1C265.4,1246.5 265.7,1241.8 266.0,1237.1C266.3,1232.5 266.6,1227.8 266.8,1223.1C267.1,1218.5 267.4,1213.8 267.7,1209.1C268.0,1204.5 268.3,1199.8 268.5,1195.1C268.8,1190.5 269.1,1185.8 269.4,1181.1C269.7,1176.5 269.9,1171.8 270.2,1167.1C270.5,1162.5 270.7,1157.8 271.0,1153.1C271.3,1148.5 271.6,1143.8 271.8,1139.1C272.1,1134.5 272.4,1129.8 272.6,1125.1C272.9,1120.5 273.2,1115.8 273.4,1111.1C273.7,1106.4 274.0,1101.8 274.2,1097.1C274.5,1092.4 274.7,1087.8 275.0,1083.1C275.3,1078.4 275.5,1073.8 275.8,1069.1C276.0,1064.4 276.3,1059.8 276.6,1055.1C276.8,1050.4 277.1,1045.8 277.3,1041.1C277.6,1036.4 277.8,1031.7 278.1,1027.1C278.4,1022.4 278.6,1017.7 278.9,1013.1C279.1,1008.4 279.4,1003.7 279.6,999.1C279.9,994.4 280.1,989.7 280.4,985.1C280.7,980.4 280.9,975.7 281.2,971.1C281.4,966.4 281.7,961.7 281.9,957.0C282.2,952.4 282.4,947.7 282.7,943.0C282.9,938.4 283.2,933.7 283.4,929.0C283.7,924.4 284.0,919.7 284.2,915.0C284.5,910.4 284.7,905.7 285.0,901.0C285.2,896.4 285.5,891.7 285.7,887.0C286.0,882.4 286.3,877.7 286.5,873.0C286.8,868.4 287.0,863.7 287.3,859.0C287.5,854.4 287.8,849.7 288.1,845.0C288.3,840.4 288.6,835.7 288.8,831.0C289.1,826.4 289.4,821.7 289.6,817.0C289.9,812.4 290.1,807.7 290.4,803.0C290.7,798.4 290.9,793.7 291.2,789.0C291.5,784.4 291.7,779.7 292.0,775.0C292.3,770.4 292.5,765.7 292.8,761.0C293.1,756.4 293.4,751.7 293.6,747.0C293.9,742.4 294.2,737.7 294.4,733.0C294.7,728.4 295.0,723.7 295.3,719.1C295.6,714.4 295.8,709.7 296.1,705.1C296.4,700.4 296.7,695.7 296.9,691.1C297.2,686.4 297.5,681.7 297.8,677.1C298.1,672.4 298.4,667.7 298.7,663.1C298.9,658.4 299.2,653.7 299.5,649.1C299.8,644.4 300.1,639.7 300.4,635.1C300.7,630.4 301.0,625.7 301.3,621.1C301.6,616.4 301.8,611.7 302.1,607.1C302.4,602.4 302.7,597.7 303.0,593.1C303.3,588.4 303.6,583.7 303.9,579.0C304.2,574.4 304.5,569.7 304.8,565.0C305.1,560.4 305.4,555.7 305.8,551.0C306.1,546.3 306.4,541.7 306.7,537.0C307.0,532.3 307.4,527.6 307.7,523.0C308.0,518.3 308.4,513.6 308.8,509.0C309.1,504.3 309.5,499.6 309.9,495.0C310.3,490.3 310.7,485.6 311.1,481.0C311.5,476.3 312.0,471.7 312.4,467.0C312.9,462.4 313.4,457.7 313.9,453.1C314.4,448.4 314.9,443.8 315.4,439.1C316.0,434.5 316.5,429.9 317.1,425.2C317.7,420.6 318.3,416.0 319.0,411.4C319.6,406.7 320.3,402.1 321.0,397.5C321.7,392.9 322.4,388.3 323.2,383.7C324.0,379.1 324.8,374.5 325.6,369.9C326.4,365.3 327.3,360.7 328.2,356.2C329.1,351.6 330.1,347.0 331.1,342.5C332.0,337.9 333.1,333.3 334.1,328.8C335.2,324.3 336.3,319.7 337.5,315.2C338.6,310.7 339.8,306.1 341.0,301.6C342.3,297.1 343.5,292.6 344.8,288.1C346.1,283.6 347.5,279.1 348.8,274.6C350.2,270.1 351.6,265.6 353.0,261.1C354.5,256.6 355.9,252.1 357.6,247.7C359.3,243.3 361.1,239.0 363.2,234.9C365.4,230.8 367.9,226.8 370.6,223.1C373.4,219.4 376.5,215.9 379.9,212.8C383.3,209.6 387.0,206.7 391.0,204.2C395.1,201.8 399.5,199.5 404.0,198.0C408.6,196.4 413.4,195.2 418.1,194.9C422.8,194.5 427.8,194.7 432.2,195.7C436.6,196.7 441.0,198.6 444.7,201.1C448.3,203.6 451.4,206.9 454.2,210.5C457.0,214.1 459.2,218.4 461.4,222.5C463.7,226.7 465.6,231.2 467.5,235.5C469.4,239.9 471.3,244.3 473.0,248.7C474.7,253.1 476.4,257.5 478.0,262.0C479.5,266.4 481.0,270.8 482.4,275.3C483.9,279.7 485.2,284.2 486.5,288.7C487.8,293.1 489.1,297.6 490.3,302.1C491.5,306.6 492.6,311.1 493.7,315.6C494.8,320.1 495.9,324.7 496.9,329.2C498.0,333.7 499.0,338.3 500.0,342.8C500.9,347.4 501.9,351.9 502.8,356.5C503.8,361.0 504.7,365.6 505.5,370.2C506.4,374.8 507.3,379.4 508.1,383.9C508.9,388.5 509.8,393.1 510.5,397.7C511.3,402.3 512.1,406.9 512.9,411.5C513.6,416.2 514.4,420.8 515.1,425.4C515.8,430.0 516.5,434.6 517.2,439.3C517.9,443.9 518.6,448.5 519.3,453.1C520.0,457.8 520.6,462.4 521.3,467.0C521.9,471.7 522.6,476.3 523.2,481.0C523.9,485.6 524.5,490.2 525.1,494.9C525.8,499.5 526.4,504.2 527.0,508.8C527.6,513.5 528.2,518.1 528.9,522.8C529.5,527.4 530.1,532.1 530.7,536.7C531.3,541.3 532.0,546.0 532.6,550.6C533.2,555.3 533.8,559.9 534.5,564.6C535.1,569.2 535.8,573.8 536.4,578.5C537.1,583.1 537.7,587.7 538.4,592.4C539.0,597.0 539.7,601.6 540.4,606.2C541.1,610.9 541.8,615.5 542.5,620.1C543.2,624.7 543.9,629.3 544.6,634.0C545.4,638.6 546.1,643.2 546.9,647.8C547.6,652.4 548.4,657.0 549.2,661.6C550.0,666.2 550.8,670.8 551.6,675.4C552.4,680.0 553.2,684.6 554.0,689.2C554.9,693.7 555.8,698.3 556.6,702.9C557.5,707.5 558.4,712.1 559.3,716.7C560.2,721.2 561.2,725.8 562.1,730.4C563.1,734.9 564.0,739.5 565.0,744.1C566.0,748.6 567.0,753.2 568.1,757.8C569.1,762.3 570.2,766.9 571.2,771.4C572.3,776.0 573.4,780.5 574.5,785.1C575.7,789.6 576.8,794.1 578.0,798.7C579.2,803.2 580.4,807.7 581.6,812.3C582.8,816.8 584.1,821.3 585.4,825.8C586.7,830.3 588.1,834.8 589.4,839.3C590.8,843.8 592.2,848.2 593.7,852.7C595.2,857.1 596.7,861.6 598.2,866.0C599.8,870.4 601.4,874.8 603.1,879.2C604.8,883.5 606.6,887.8 608.5,892.1C610.4,896.3 612.4,900.5 614.5,904.6C616.7,908.7 619.0,912.8 621.5,916.7C623.9,920.6 626.5,924.5 629.3,928.2C632.0,932.0 634.9,935.7 637.9,939.3C640.8,942.9 644.0,946.4 647.2,949.9C650.3,953.3 653.6,956.7 657.0,960.0C660.4,963.3 663.8,966.5 667.3,969.7C670.8,972.9 674.4,976.0 678.0,979.0C681.5,982.1 685.2,985.1 688.8,988.0C692.5,991.0 696.2,993.9 699.8,996.7C703.5,999.6 707.2,1002.4 711.0,1005.2C714.7,1008.0 718.4,1010.7 722.2,1013.4C725.9,1016.2 729.6,1018.9 733.4,1021.6C737.2,1024.3 740.9,1026.9 744.7,1029.6C748.5,1032.3 752.3,1035.0 756.1,1037.7C759.8,1040.4 763.6,1043.1 767.4,1045.8C771.2,1048.6 775.0,1051.3 778.8,1054.1C782.5,1056.9 786.3,1059.7 790.1,1062.5C793.9,1065.3 797.7,1068.1 801.5,1070.9C805.3,1073.7 809.1,1076.6 813.0,1079.3C816.8,1082.1 820.6,1084.8 824.5,1087.5C828.4,1090.2 832.3,1092.8 836.3,1095.4C840.2,1097.9 844.2,1100.4 848.2,1102.8C852.3,1105.2 856.3,1107.5 860.4,1109.7C864.6,1111.9 868.7,1113.9 872.9,1115.9C877.1,1117.9 881.4,1119.7 885.7,1121.5C890.0,1123.3 894.3,1125.0 898.7,1126.6C903.0,1128.3 907.4,1129.8 911.9,1131.3C916.3,1132.8 920.7,1134.2 925.2,1135.6C929.7,1137.0 934.2,1138.3 938.7,1139.6C943.2,1140.9 947.7,1142.2 952.2,1143.4C956.7,1144.7 961.3,1145.9 965.8,1147.2C970.3,1148.4 974.9,1149.6 979.4,1150.9C983.9,1152.1 988.4,1153.3 993.0,1154.6C997.5,1155.9 1002.0,1157.1 1006.5,1158.5C1011.0,1159.8 1015.4,1161.2 1019.9,1162.6C1024.3,1164.0 1028.8,1165.4 1033.2,1167.0C1037.6,1168.5 1042.0,1170.1 1046.3,1171.8C1050.6,1173.4 1054.9,1175.2 1059.2,1177.0C1063.5,1178.7 1067.8,1180.6 1072.0,1182.5C1076.2,1184.4 1080.4,1186.4 1084.6,1188.4C1088.8,1190.4 1093.0,1192.5 1097.1,1194.6C1101.3,1196.7 1105.4,1198.9 1109.5,1201.1C1113.6,1203.3 1117.7,1205.5 1121.8,1207.8C1125.9,1210.0 1129.9,1212.3 1134.0,1214.6C1138.0,1216.9 1142.1,1219.3 1146.1,1221.6C1150.2,1224.0 1154.2,1226.4 1158.3,1228.7C1162.3,1231.1 1166.3,1233.5 1170.3,1235.9C1174.4,1238.3 1178.4,1240.7 1182.4,1243.1C1186.5,1245.5 1190.5,1247.9 1194.5,1250.2C1198.6,1252.6 1202.6,1255.0 1206.7,1257.3C1210.7,1259.7 1214.8,1262.0 1218.8,1264.3C1222.9,1266.7 1227.0,1269.0 1231.1,1271.2C1235.2,1273.5 1239.3,1275.7 1243.4,1277.9C1247.6,1280.1 1251.7,1282.3 1255.9,1284.4C1260.0,1286.5 1264.2,1288.5 1268.4,1290.5C1272.6,1292.5 1276.8,1294.5 1281.1,1296.4C1285.3,1298.3 1289.6,1300.1 1293.9,1301.9C1298.2,1303.6 1302.5,1305.3 1306.9,1306.9C1311.3,1308.5 1315.7,1310.0 1320.1,1311.5C1324.5,1312.9 1329.0,1314.3 1333.5,1315.5C1337.9,1316.8 1342.5,1318.0 1347.0,1319.1C1351.6,1320.2 1356.2,1321.2 1360.7,1322.1C1365.3,1323.1 1369.9,1324.0 1374.6,1324.9C1379.2,1325.8 1383.8,1326.6 1388.4,1327.5C1393.1,1328.3 1397.7,1329.1 1402.3,1329.9C1407.0,1330.7 1411.6,1331.4 1416.2,1332.2C1420.9,1332.9 1425.5,1333.7 1430.1,1334.4C1434.7,1335.1 1439.4,1335.8 1444.0,1336.5C1448.6,1337.2 1453.3,1337.9 1457.9,1338.6C1462.5,1339.2 1467.2,1339.9 1471.8,1340.5C1476.4,1341.2 1481.1,1341.8 1485.7,1342.4C1490.3,1343.0 1495.0,1343.6 1499.6,1344.2C1504.2,1344.8 1508.9,1345.3 1513.5,1345.9C1518.2,1346.4 1522.8,1347.0 1527.4,1347.5C1532.1,1348.1 1536.7,1348.6 1541.3,1349.1C1546.0,1349.6 1550.6,1350.1 1555.3,1350.6C1559.9,1351.1 1564.5,1351.6 1569.2,1352.1C1573.8,1352.5 1578.5,1353.0 1583.1,1353.4C1587.8,1353.9 1592.4,1354.3 1597.1,1354.8C1601.7,1355.2 1606.4,1355.6 1611.0,1356.1C1615.7,1356.5 1620.3,1356.9 1625.0,1357.3C1629.6,1357.7 1634.3,1358.1 1638.9,1358.5C1643.6,1358.9 1648.2,1359.2 1652.9,1359.6C1657.5,1360.0 1662.2,1360.3 1666.8,1360.7C1671.5,1361.1 1676.2,1361.4 1680.8,1361.8C1685.5,1362.1 1690.1,1362.5 1694.8,1362.8C1699.5,1363.1 1704.1,1363.5 1708.8,1363.8C1713.5,1364.1 1718.1,1364.4 1722.8,1364.7C1727.4,1365.0 1732.1,1365.3 1736.8,1365.6C1741.4,1365.9 1746.1,1366.2 1750.8,1366.5C1755.5,1366.8 1760.1,1367.1 1764.8,1367.4C1769.5,1367.6 1774.1,1367.9 1778.8,1368.2C1783.5,1368.5 1788.1,1368.7 1792.8,1369.0C1797.5,1369.2 1802.2,1369.5 1806.8,1369.7C1811.5,1370.0 1816.2,1370.2 1820.9,1370.5C1825.5,1370.7 1830.2,1370.9 1834.9,1371.2C1839.5,1371.4 1844.2,1371.6 1848.9,1371.8C1853.6,1372.1 1858.2,1372.3 1862.9,1372.5C1867.6,1372.7 1872.3,1372.9 1876.9,1373.1C1881.6,1373.3 1886.3,1373.5 1891.0,1373.7C1895.6,1373.9 1900.3,1374.1 1905.0,1374.3C1909.7,1374.5 1914.3,1374.7 1919.0,1374.9C1923.7,1375.1 1928.4,1375.2 1933.0,1375.4C1937.7,1375.6 1942.4,1375.8 1947.1,1376.0C1951.7,1376.1 1956.4,1376.3 1961.1,1376.5C1965.8,1376.6 1970.4,1376.8 1975.1,1377.0C1979.8,1377.1 1984.5,1377.3 1989.1,1377.5C1993.8,1377.6 1998.5,1377.8 2003.1,1377.9C2007.8,1378.1 2012.5,1378.2 2017.2,1378.4C2021.8,1378.5 2026.5,1378.7 2031.2,1378.8C2035.8,1379.0 2040.5,1379.1 2045.2,1379.3C2049.8,1379.4 2054.5,1379.6 2059.2,1379.7C2063.8,1379.9 2068.5,1380.0 2073.2,1380.1C2077.8,1380.3 2084.8,1380.5 2087.1,1380.6"/>
</g>
<g font-family="'Liberation Sans', sans-serif" fill="#000">
<text transform="translate(173.60,1597.20) scale(0.9360,1)" font-size="94.6" text-anchor="middle" letter-spacing="6.2">250</text>
<text transform="translate(654.10,1597.20) scale(0.9360,1)" font-size="94.6" text-anchor="middle" letter-spacing="6.2">300</text>
<text transform="translate(1134.20,1597.20) scale(0.9360,1)" font-size="94.6" text-anchor="middle" letter-spacing="6.2">350</text>
<text transform="translate(1614.00,1597.20) scale(0.9360,1)" font-size="94.6" text-anchor="middle" letter-spacing="6.2">400</text>
<text transform="translate(2094.60,1597.20) scale(0.9360,1)" font-size="94.6" text-anchor="middle" letter-spacing="6.2">450</text>
<text transform="translate(764.10,1680.00) scale(0.9580,1.0000)" font-size="95" font-weight="bold" text-anchor="start" dx="0.00 2.09 -1.04 -0.52 3.24 2.51 2.09 -3.13 -3.13 6.26 0.00 -11.27 3.34 0.21 1.98">Wavelength (nm)</text>
<text transform="translate(95.20,996.00) rotate(-90) scale(0.9260,1.0000)" font-size="95" font-weight="bold" text-anchor="start" dx="0.00 2.16 -2.38 -1.84 0.86 2.38 -0.11 2.27 -3.56 -1.94">Absorbance</text>
</g>
</svg>
</body>
</html>
